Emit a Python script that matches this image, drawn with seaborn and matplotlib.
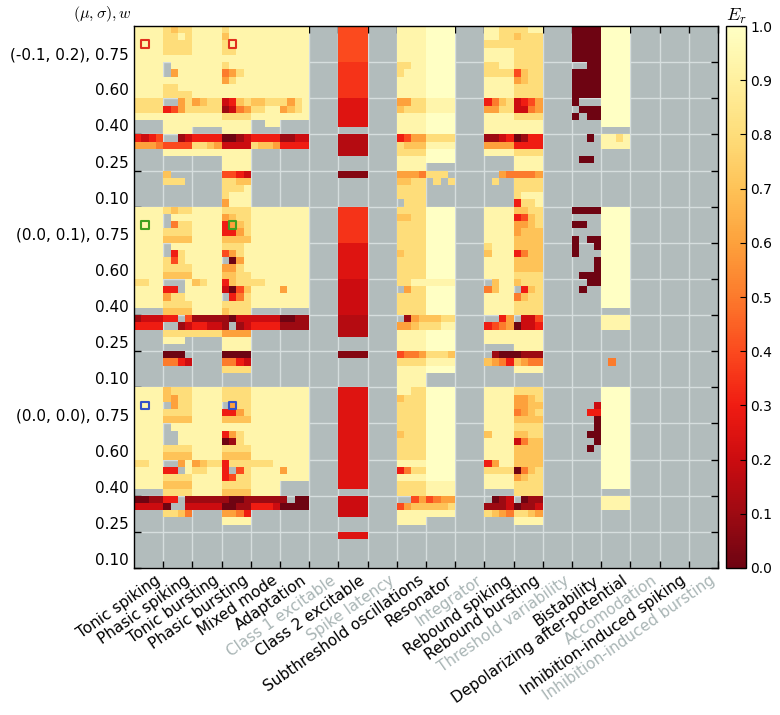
import numpy as np
import pandas as pd
import matplotlib
matplotlib.use("Agg")
import matplotlib.pyplot as plt
from matplotlib.colors import LinearSegmentedColormap
import seaborn as sns

# behaviours along x, 4 parameter columns each
categories = ['Tonic spiking', 'Phasic spiking', 'Tonic bursting', 'Phasic bursting',
              'Mixed mode', 'Adaptation', 'Class 1 excitable', 'Class 2 excitable',
              'Spike latency', 'Subthreshold oscillations', 'Resonator', 'Integrator',
              'Rebound spiking', 'Rebound bursting', 'Threshold variability', 'Bistability',
              'Depolarizing after-potential', 'Accomodation', 'Inhibition-induced spiking',
              'Inhibition-induced bursting']
greyed = ['Class 1 excitable', 'Spike latency', 'Integrator', 'Threshold variability',
          'Accomodation', 'Inhibition-induced bursting']

groups = ['(-0.1, 0.2)', '(0.0, 0.1)', '(0.0, 0.0)']
w_values = ['0.75', '0.60', '0.40', '0.25', '0.10']

# cell codes: '.' = no value, digits = tenths, 'A' = 1.0, a-e = half steps
levels = {'0': 0.0, 'a': 0.05, '1': 0.1, 'b': 0.15, '2': 0.2, 'c': 0.25, '3': 0.3,
          'd': 0.35, '4': 0.4, 'e': 0.45, '5': 0.5, '6': 0.6, '7': 0.7, '8': 0.8,
          '9': 0.93, 'A': 1.0}

# one string per w band (5 rows of 4 cells), 15 bands = 3 groups x 5 w values
tonic_spiking = [
    '9999 9999 9999 9999 9999', '9999 9999 9999 9999 9999', '8888 8888 9999 .... ....',
    '3234 6665 .... .... ....', '.... .... .... .... ....',
    '9999 9999 9999 9999 9999', '9999 9999 9999 9999 9999', '8899 9999 9999 9999 ....',
    '1222 3333 .... .... ....', '.... .... .... .... ....',
    '9999 9999 9999 9999 9999', '9999 9999 9999 9999 9999', '8899 9999 9999 9999 ....',
    '0011 2222 .... .... ....', '.... .... .... .... ....']
phasic_spiking = [
    '8788 8898 8888 8888 9999', '.999 .699 9999 8899 8888', '..68 3468 9999 9999 9999',
    '..12 4444 9999 .... ....', '7... 888. .... .... ....',
    '8788 .999 .588 8888 7777', '.999 .389 8489 8888 7777', '...9 33.9 6889 8888 7777',
    '33.4 ..12 8888 999. ....', '000. 5532 .... .... ....',
    '7888 7688 .688 8888 7777', '.999 ..99 ..99 8888 7777', '..69 33.9 8888 7777 8888',
    '33.1 0..2 8875 .... ....', '.... .... .... .... ....']
tonic_bursting = [
    '9999 9999 9999 9999 9999', '9999 9999 9999 9999 9999', '6788 8888 9999 9999 ....',
    '3333 8876 9999 .... ....', '.... .... .... .... ....',
    '9999 9999 9999 9999 9999', '9999 9999 9999 9999 9999', '7899 9999 9999 9999 9999',
    '1111 3322 8888 .... ....', '.... .... .... .... ....',
    '9999 9999 9999 9999 9999', '9999 9999 9999 9999 9999', '6788 8899 9999 9999 9999',
    '1111 2222 .... .... ....', '.... .... .... .... ....']
phasic_bursting = [
    '8999 7999 8999 8899 9999', '8999 5689 6899 9999 9999', '2378 1256 8888 9999 9999',
    '0012 2222 9999 9999 9999', '4432 8877 8889 8999 6999',
    '8888 6788 3678 3368 7777', '8889 4689 .069 6689 7788', '3788 2047 .358 8888 7888',
    '1022 1.12 6666 9999 9999', '0000 5532 8888 .... ....',
    '8888 8888 .688 3368 7777', '9999 3689 0189 8888 7777', '3888 3.48 3488 8888 7777',
    '1001 0011 6653 9999 ....', '.... .... .... .... ....']
mixed_mode = [
    '9999 9999 9999 9999 9999', '9999 9999 9999 9999 9999', '7788 8899 9999 ..99 ....',
    '3333 8776 .... .... ....', '.... .... .... .... ....',
    '9999 9999 9999 9999 9999', '9999 9999 9999 9999 9999', '8899 9999 9999 9999 ....',
    '2222 3333 .... .... ....', '.... .... .... .... ....',
    '9999 9999 9999 9999 9999', '9999 9999 9999 9999 9999', '8889 9999 9999 9999 9999',
    '1111 3332 .... .... ....', '.... .... .... .... ....']
adaptation = [
    '9999 9999 9999 9999 9999', '9999 9999 9999 9999 9999', '8689 6789 9999 .... ....',
    '1122 3333 .... .... ....', '.... .... .... .... ....',
    '9999 9999 9999 9999 9999', '9999 9999 9999 9999 9999', '9999 6999 9999 9999 ....',
    '0011 1111 .... .... ....', '.... .... .... .... ....',
    '9999 9999 9999 9999 9999', '9999 9999 9999 9999 9999', '9999 6999 9999 .... ....',
    '1.00 0000 .... .... ....', '.... .... .... .... ....']
class2_excitable = [
    '4444 4444 4444 4444 4444', 'dddd dddd dddd dddd dddd', 'cccc cccc cccc cccc ....',
    'bbbb bbbb bbbb .... ....', 'aaaa .... .... .... ....',
    'dddd dddd dddd dddd dddd', 'cccc cccc cccc cccc cccc', '2222 2222 2222 2222 2222',
    'bbbb bbbb bbbb .... ....', 'aaaa .... .... .... ....',
    'cccc cccc cccc cccc cccc', 'cccc cccc cccc cccc cccc', 'cccc cccc cccc cccc ....',
    '2222 2222 2222 .... ....', 'cccc .... .... .... ....']
subthreshold = [
    '9999 9999 9999 9999 9999', '8899 8999 9999 9999 9999', '6688 7888 9999 9999 9999',
    '3466 8777 8888 9999 9999', '6665 7788 8888 8888 .888',
    '8888 7788 8888 8888 8888', '8888 7888 8888 8888 8888', '8899 .688 8888 8888 8888',
    '.167 6678 9999 9999 9999', '4556 8888 9999 9999 9999',
    '9988 7888 8888 8888 8888', '8888 7888 8888 8888 8888', '9999 3588 9999 8888 8888',
    '..46 4677 9999 9999 ....', '.... .... .... .... ....']
resonator = [
    'AAAA AAAA AAAA AAAA AAAA', 'AAAA AAAA AAAA AAAA AAAA', '9999 9999 AAAA AAAA AAAA',
    '8888 9999 AAAA AAAA ....', '888. .8.8 .... .... ....',
    'AAAA AAAA AAAA AAAA AAAA', 'AAAA AAAA AAAA AAAA AAAA', '9999 AAAA AAAA AAAA AAAA',
    '7788 8899 AAAA AAAA AAAA', '8887 9999 AAAA .... ....',
    'AAAA AAAA AAAA AAAA AAAA', 'AAAA AAAA AAAA AAAA AAAA', 'AAAA AAAA AAAA 9999 9999',
    '4566 7778 9999 .... ....', '.... .... .... .... ....']
rebound_spiking = [
    '9988 9988 8888 9999 9999', '8899 8888 9999 9999 9999', '3578 6688 9999 9999 9999',
    '1123 6666 9999 .... ....', '..65 .8.. .... .... ....',
    '9999 9999 9999 9999 9999', '8999 7999 9999 9999 9999', '.799 5799 9999 9999 9999',
    '..36 3456 9999 9999 ....', '.100 7653 .... .... ....',
    '9999 9999 9999 9999 9999', '9999 7999 9999 9999 9999', '3699 8888 9999 9999 ....',
    '.012 1112 8765 .... ....', '.... .... .... .... ....']
rebound_bursting = [
    '8899 7888 8888 8888 8888', '8888 4788 6788 8888 8888', '2346 2256 8888 9999 9999',
    '0133 3333 8888 9999 9999', '5556 8888 8888 8999 3889',
    '7788 3478 6678 6777 7777', '7777 3577 7777 7777 8888', '7888 .378 5788 8888 8888',
    '.224 0223 9999 9999 9999', '0111 7655 9999 .... ....',
    '8888 6678 6677 5678 7777', '8888 7788 2577 7777 7777', '7777 0578 6788 8888 8888',
    '.011 0112 8876 9999 ....', '.... .... .... .... ....']
bistability = [
    '0000 0000 0000 0000 0000', '..00 0000 0000 0000 0000', '0... .000 0.00 .... ....',
    '..0. .... .... .00. ....', '.... .... .... .... ....',
    '0000 .... 00.. .... 0.00', '0..0 0... ...0 ...0 .000', '..00 .0.. .... .... ....',
    '.... .... .... .... ....', '.... .... .... .... ....',
    '.... .... ...2 ..33 ...0', '...0 ..00 ...0 ..0. ....', '.... .... .... .... ....',
    '.... .... .... .... ....', '.... .... .... .... ....']
depolarizing = [
    'AAAA AAAA AAAA AAAA AAAA', 'AAAA AAAA AAAA AAAA AAAA', 'AAAA AAAA AAAA AAAA ....',
    '9989 9999 .... .... ....', '.... .... .... .... ....',
    'AAAA AAAA AAAA AAAA AAAA', 'AAAA AAAA AAAA AAAA AAAA', 'AAAA AAAA AAAA AAAA ....',
    '9999 9999 .... .... ....', '.... .5.. .... .... ....',
    'AAAA AAAA AAAA AAAA AAAA', 'AAAA AAAA AAAA AAAA AAAA', 'AAAA AAAA AAAA AAAA ....',
    '9999 9999 .... .... ....', '.... .... .... .... ....']

cell_codes = {
    'Tonic spiking': tonic_spiking, 'Phasic spiking': phasic_spiking,
    'Tonic bursting': tonic_bursting, 'Phasic bursting': phasic_bursting,
    'Mixed mode': mixed_mode, 'Adaptation': adaptation,
    'Class 2 excitable': class2_excitable, 'Subthreshold oscillations': subthreshold,
    'Resonator': resonator, 'Rebound spiking': rebound_spiking,
    'Rebound bursting': rebound_bursting, 'Bistability': bistability,
    'Depolarizing after-potential': depolarizing,
}

# highlighted example cells (row, column) in the grid
marker_rows = [2, 2, 27, 27, 52, 52]
marker_cols = [1, 13, 1, 13, 1, 13]
marker_colors = ['#e0301e', '#e0301e', '#3fa020', '#3fa020', '#3552c8', '#3552c8']

n_rows = len(groups) * len(w_values) * 5
blocks = []
for cat in categories:
    if cat in cell_codes:
        rows = [tok for band in cell_codes[cat] for tok in band.split()]
        blocks.append([[levels.get(ch, np.nan) for ch in tok] for tok in rows])
    else:
        blocks.append(np.full((n_rows, 4), np.nan).tolist())
mat = np.hstack([np.array(b, dtype=float) for b in blocks])
df = pd.DataFrame(mat)

cmap = LinearSegmentedColormap.from_list('er', [
    '#6e0412', '#9e0a12', '#cc0c10', '#f01c12', '#fb4a1e', '#fc7a2c',
    '#fda13c', '#fec257', '#fedd7a', '#fff09e', '#ffffc4'])

plt.rcParams['mathtext.fontset'] = 'cm'
plt.rcParams['font.family'] = ['DejaVu Sans']

fig = plt.figure(figsize=(7.8, 7.15), dpi=100)
ax = fig.add_axes([0.1718, 0.2056, 0.7487, 0.758])
cax = fig.add_axes([0.931, 0.2056, 0.025, 0.758])

sns.heatmap(df, cmap=cmap, vmin=0, vmax=1, ax=ax, cbar_ax=cax,
            xticklabels=False, yticklabels=False)
ax.set_facecolor('#b2bcbc')

# band / behaviour boundaries
ax.set_xticks(np.arange(4, 4 * len(categories) + 1, 4))
ax.set_xticklabels(categories, rotation=35, ha='right', fontsize=11)
for lbl in ax.get_xticklabels():
    if lbl.get_text() in greyed:
        lbl.set_color('#a9b5b5')

ytl = []
for g in groups:
    for w in w_values:
        ytl.append(f'{g}, {w}' if w == '0.75' else w)
ax.set_yticks(np.arange(5, n_rows + 1, 5))
ax.set_yticklabels(ytl, rotation=0, fontsize=11, va='bottom')

ax.tick_params(direction='in', top=True, right=True, length=5, width=1, color='black')
ax.set_axisbelow(True)
ax.grid(True, color='#d6dede', linewidth=1)
for s in ax.spines.values():
    s.set_visible(True)
    s.set_color('black')
    s.set_linewidth(1)

ax.scatter(np.array(marker_cols) + 0.5, np.array(marker_rows) + 0.5, marker='s', s=30,
           facecolors='none', edgecolors=marker_colors, linewidths=1.5, zorder=5)

ax.text(-0.004, 1.003, r'$(\mu, \sigma), w$', transform=ax.transAxes,
        ha='right', va='bottom', fontsize=11.5)

cb = ax.collections[0].colorbar
cb.outline.set_visible(True)
cb.outline.set_linewidth(1)
cb.outline.set_edgecolor('black')
cb.set_ticks(np.arange(0, 1.01, 0.1))
cb.set_ticklabels([f'{t:.1f}' for t in np.arange(0, 1.01, 0.1)])
cax.tick_params(labelsize=10, direction='in', length=4)
cax.set_title(r'$E_r$', fontsize=13, pad=3)

fig.savefig('out.png', dpi=100)
